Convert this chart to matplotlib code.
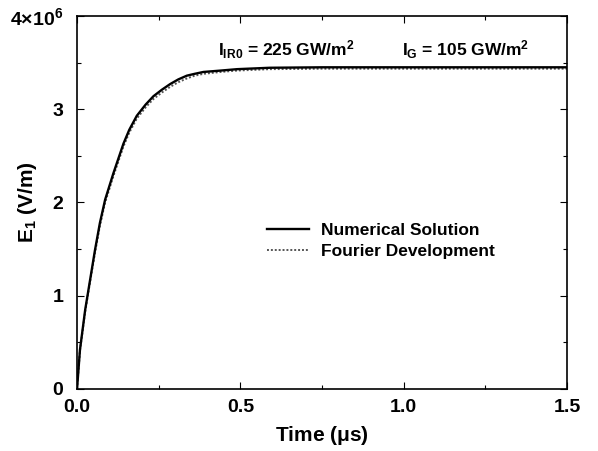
import matplotlib.pyplot as plt
from matplotlib.ticker import MultipleLocator, FuncFormatter

plt.rcParams['font.family'] = ['Liberation Sans', 'DejaVu Sans']
plt.rcParams['font.weight'] = 'bold'
plt.rcParams['mathtext.fontset'] = 'custom'
plt.rcParams['mathtext.rm'] = 'Liberation Sans:bold'
plt.rcParams['mathtext.it'] = 'Liberation Sans:bold'
plt.rcParams['mathtext.bf'] = 'Liberation Sans:bold'

# time in microseconds, field in units of 1e6 V/m
t_num = [0.0, 0.009, 0.025, 0.040, 0.055, 0.070, 0.086, 0.111, 0.142, 0.16,
         0.183, 0.21, 0.234, 0.26, 0.285, 0.31, 0.336, 0.36, 0.387, 0.44,
         0.49, 0.59, 0.75, 1.0, 1.25, 1.5]
e_num = [0.0, 0.42, 0.85, 1.17, 1.49, 1.78, 2.03, 2.31, 2.63, 2.78,
         2.93, 3.05, 3.14, 3.21, 3.27, 3.32, 3.36, 3.38, 3.40, 3.415,
         3.43, 3.445, 3.45, 3.45, 3.45, 3.45]

t_four = [0.0, 0.009, 0.025, 0.040, 0.055, 0.070, 0.086, 0.111, 0.142, 0.16,
          0.183, 0.21, 0.234, 0.26, 0.285, 0.31, 0.336, 0.36, 0.387, 0.44,
          0.49, 0.59, 0.75, 1.0, 1.25, 1.5]
e_four = [0.0, 0.41, 0.83, 1.15, 1.46, 1.75, 2.00, 2.28, 2.60, 2.75,
          2.90, 3.02, 3.11, 3.18, 3.24, 3.29, 3.33, 3.36, 3.38, 3.40,
          3.415, 3.43, 3.435, 3.435, 3.435, 3.435]

scale = 1e6

fig = plt.figure(figsize=(5.98, 4.51), dpi=100)
ax = fig.add_axes([0.1288, 0.1375, 0.8194, 0.827])

ax.plot(t_four, [v * scale for v in e_four], color='#555555', lw=1.4,
        ls=(0, (1, 1)), label='Fourier Development', zorder=2)
ax.plot(t_num, [v * scale for v in e_num], color='black', lw=1.7,
        label='Numerical Solution', zorder=3)

ax.set_xlim(0, 1.5)
ax.set_ylim(0, 4e6)
ax.xaxis.set_major_locator(MultipleLocator(0.5))
ax.xaxis.set_minor_locator(MultipleLocator(0.25))
ax.yaxis.set_major_locator(MultipleLocator(1e6))
ax.yaxis.set_minor_locator(MultipleLocator(0.5e6))
ax.xaxis.set_major_formatter(FuncFormatter(lambda v, p: f"{v:.1f}"))


def yfmt(v, p):
    if abs(v - 4e6) < 1:
        return r'$4{\times}10^6$'
    return f"{int(round(v / 1e6))}"


ax.yaxis.set_major_formatter(FuncFormatter(yfmt))
ax.tick_params(which='both', direction='in', top=True, right=True,
               labelsize=14, width=0.8)
ax.tick_params(which='major', length=5)
ax.tick_params(which='minor', length=3)
ax.tick_params(axis='y', pad=10)
ax.tick_params(axis='x', pad=7)
for s in ax.spines.values():
    s.set_linewidth(1.2)

ax.set_xlabel(r'Time ($\mu$s)', fontsize=15, fontweight='bold')
ax.set_ylabel(r'E$_1$ (V/m)', fontsize=15, fontweight='bold')
ax.xaxis.set_label_coords(0.5, -0.094)
ax.yaxis.set_label_coords(-0.078, 0.5)

ax.text(0.64, 3.64e6, r'I$_{\rm IR0}$ = 225 GW/m$^2$', fontsize=12.5,
        ha='center', va='center')
ax.text(1.19, 3.64e6, r'I$_{\rm G}$ = 105 GW/m$^2$', fontsize=12.5,
        ha='center', va='center')

handles, labels = ax.get_legend_handles_labels()
ax.legend(handles[::-1], labels[::-1], loc='upper left',
          bbox_to_anchor=(0.37, 0.468), frameon=False,
          fontsize=12.5, handlelength=2.4, handletextpad=0.7,
          labelspacing=0.3, borderpad=0)

fig.savefig('out.png', dpi=100)
